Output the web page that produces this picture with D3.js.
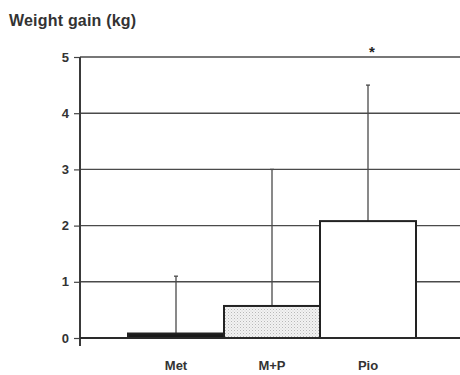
<!DOCTYPE html>
<html>
<head>
<meta charset="utf-8">
<script src="https://cdn.jsdelivr.net/npm/d3@7"></script>
<style>
  body { margin: 0; background: #fff; }
  svg { display: block; font-family: "Liberation Sans", Arial, sans-serif; }
</style>
</head>
<body>
<svg id="chart"></svg>
<script>
const width = 460;
const height = 375;

// Data
const groups = ["Met", "M+P", "Pio"];
const means = [0.08, 0.57, 2.08];
const upperErr = [1.1, 3.0, 4.5];
const yTicks = [0, 1, 2, 3, 4, 5];
const marks = ["", "", "*"];

const svg = d3.select("#chart")
  .attr("width", width)
  .attr("height", height);

// stipple pattern for M+P
const defs = svg.append("defs");
const pat = defs.append("pattern")
  .attr("id", "dots")
  .attr("width", 3)
  .attr("height", 3)
  .attr("patternUnits", "userSpaceOnUse");
pat.append("rect").attr("width", 3).attr("height", 3).attr("fill", "#f2f2f2");
pat.append("rect").attr("x", 0).attr("y", 0).attr("width", 1).attr("height", 1).attr("fill", "#b8b8b8");
pat.append("rect").attr("x", 1.5).attr("y", 1.5).attr("width", 1).attr("height", 1).attr("fill", "#cfcfcf");

const axisX = 80;
const plotRight = 460;

const y = d3.scaleLinear().domain([0, 5]).range([338, 57]);
const x = d3.scaleBand().domain(groups).range([128, 416]).padding(0);
const fills = ["#1a1a1a", "url(#dots)", "#fff"];

// Title
svg.append("text")
  .attr("x", 9)
  .attr("y", 26)
  .attr("font-size", 16)
  .attr("font-weight", "bold")
  .attr("fill", "#333")
  .attr("letter-spacing", 0.2)
  .text("Weight gain (kg)");

// Gridlines
svg.append("g")
  .selectAll("line")
  .data(yTicks.filter(d => d > 0))
  .join("line")
  .attr("x1", axisX)
  .attr("x2", plotRight)
  .attr("y1", d => y(d))
  .attr("y2", d => y(d))
  .attr("stroke", "#4a4a4a")
  .attr("stroke-width", 1.4);

// Y Axis
const yAxis = d3.axisLeft(y).tickValues(yTicks).tickSize(6).tickPadding(5).tickFormat(d3.format("d"));
const gy = svg.append("g")
  .attr("transform", `translate(${axisX},0)`)
  .call(yAxis);
gy.select(".domain").remove();
gy.selectAll(".tick line").attr("stroke", "#444").attr("stroke-width", 1.2);
gy.selectAll(".tick text")
  .attr("font-size", 13)
  .attr("font-weight", "bold")
  .attr("fill", "#333");
svg.append("line")
  .attr("x1", axisX).attr("x2", axisX)
  .attr("y1", y(5)).attr("y2", y(0) + 8)
  .attr("stroke", "#3a3a3a")
  .attr("stroke-width", 2);

// Error bars (upper only)
const err = svg.append("g");
err.selectAll("line.stem")
  .data(groups)
  .join("line")
  .attr("class", "stem")
  .attr("x1", d => x(d) + x.bandwidth() / 2)
  .attr("x2", d => x(d) + x.bandwidth() / 2)
  .attr("y1", (d, i) => y(means[i]))
  .attr("y2", (d, i) => y(upperErr[i]))
  .attr("stroke", "#4a4a4a")
  .attr("stroke-width", 1.3);
err.selectAll("line.cap")
  .data(groups)
  .join("line")
  .attr("class", "cap")
  .attr("x1", d => x(d) + x.bandwidth() / 2 - 2)
  .attr("x2", d => x(d) + x.bandwidth() / 2 + 2)
  .attr("y1", (d, i) => y(upperErr[i]))
  .attr("y2", (d, i) => y(upperErr[i]))
  .attr("stroke", "#4a4a4a")
  .attr("stroke-width", 1.3);

// Bars
svg.append("g")
  .selectAll("rect")
  .data(groups)
  .join("rect")
  .attr("x", d => x(d))
  .attr("y", (d, i) => y(means[i]))
  .attr("width", x.bandwidth())
  .attr("height", (d, i) => y(0) - y(means[i]))
  .attr("fill", (d, i) => fills[i])
  .attr("stroke", "#222")
  .attr("stroke-width", 2);

// baseline
svg.append("line")
  .attr("x1", axisX).attr("x2", plotRight)
  .attr("y1", y(0)).attr("y2", y(0))
  .attr("stroke", "#2a2a2a")
  .attr("stroke-width", 2);

// Category labels
svg.append("g")
  .selectAll("text")
  .data(groups)
  .join("text")
  .attr("x", d => x(d) + x.bandwidth() / 2)
  .attr("y", 370)
  .attr("text-anchor", "middle")
  .attr("font-size", 13)
  .attr("font-weight", "bold")
  .attr("fill", "#333")
  .text(d => d);

// Significance marks
svg.append("g")
  .selectAll("text")
  .data(groups)
  .join("text")
  .attr("x", d => x(d) + x.bandwidth() / 2 + 4)
  .attr("y", 57)
  .attr("text-anchor", "middle")
  .attr("font-size", 15)
  .attr("font-weight", "bold")
  .attr("fill", "#222")
  .text((d, i) => marks[i]);
</script>
</body>
</html>
